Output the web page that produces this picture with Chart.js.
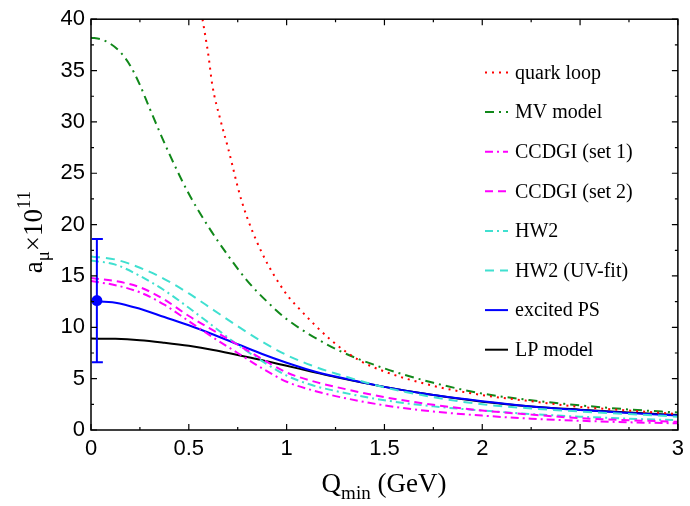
<!DOCTYPE html>
<html>
<head>
<meta charset="utf-8">
<script src="https://cdn.jsdelivr.net/npm/chart.js@4.4.0/dist/chart.umd.min.js"></script>
<style>
  html, body { margin: 0; padding: 0; background: #fff; }
  #wrap { width: 690px; height: 506px; }
</style>
</head>
<body>
<div id="wrap"><canvas id="chart"></canvas></div>
<script>
// Q_min grid (GeV) shared by the lower six curves
const qGrid = [0, 0.125, 0.25, 0.375, 0.5, 0.625, 0.75, 0.875, 1, 1.125, 1.25, 1.5, 1.75, 2, 2.25, 2.5, 2.75, 3];

const lpModel    = [8.9, 8.88, 8.75, 8.5, 8.2, 7.8, 7.3, 6.8, 6.25, 5.7, 5.15, 4.2, 3.4, 2.75, 2.3, 1.98, 1.7, 1.45];
const excitedPS  = [12.55, 12.4, 11.8, 11.0, 10.2, 9.3, 8.35, 7.4, 6.55, 5.8, 5.2, 4.2, 3.4, 2.8, 2.3, 1.95, 1.65, 1.4];
const hw2UV      = [16.9, 16.6, 15.8, 14.7, 13.3, 11.7, 10.1, 8.6, 7.3, 6.3, 5.5, 4.15, 3.2, 2.5, 2.1, 1.8, 1.55, 1.3];
const hw2        = [16.5, 16.1, 15.0, 13.6, 11.9, 10.1, 8.3, 6.7, 5.3, 4.4, 3.8, 2.9, 2.3, 1.9, 1.55, 1.3, 1.1, 0.95];
const ccdgiSet2  = [14.8, 14.5, 13.9, 12.7, 11.1, 9.7, 8.3, 6.9, 5.6, 4.8, 4.2, 3.2, 2.45, 1.9, 1.5, 1.15, 0.95, 0.8];
const ccdgiSet1  = [14.5, 14.1, 13.4, 12.2, 10.6, 9.0, 7.5, 6.0, 4.7, 3.9, 3.3, 2.4, 1.8, 1.4, 1.1, 0.9, 0.75, 0.65];

// MV model
const mvQ   = [0, 0.05, 0.1, 0.15, 0.2, 0.25, 0.3, 0.4, 0.5, 0.6, 0.7, 0.8, 0.9, 1, 1.25, 1.5, 1.75, 2, 2.25, 2.5, 2.75, 3];
const mvVal = [38.2, 38.05, 37.6, 36.8, 35.5, 33.6, 31.3, 26.9, 23.0, 19.8, 17.0, 14.5, 12.5, 10.8, 7.9, 6.0, 4.6, 3.55, 2.9, 2.4, 2.0, 1.7];

// quark loop
const qlQ   = [0.57, 0.6, 0.62, 0.66, 0.7, 0.77, 0.87, 1.0, 1.05, 1.23, 1.37, 1.5, 1.75, 2, 2.25, 2.5, 2.75, 3];
const qlVal = [40, 36.5, 33.6, 30.3, 27.5, 22.3, 17.4, 13.2, 12.1, 8.7, 6.8, 5.7, 4.3, 3.4, 2.8, 2.25, 1.9, 1.55];

// data point with error bar
const pointQ = 0.03;
const pointVal = 12.6;
const pointLow = 6.6;
const pointHigh = 18.6;

const xTicks = [0, 0.5, 1, 1.5, 2, 2.5, 3];
const yTicks = [0, 5, 10, 15, 20, 25, 30, 35, 40];

function toXY(xs, ys) {
    return xs.map((x, i) => ({ x: x, y: ys[i] }));
}

function line(label, xs, ys, color, dash, width) {
    return {
        label: label,
        data: toXY(xs, ys),
        borderColor: color,
        backgroundColor: color,
        borderDash: dash,
        borderWidth: width || 2,
        pointRadius: 0,
        fill: false,
        cubicInterpolationMode: 'monotone'
    };
}

const datasets = [
    line('quark loop', qlQ, qlVal, '#ff0000', [2, 5]),
    line('MV model', mvQ, mvVal, '#11881a', [9, 5, 2, 5]),
    line('CCDGI (set 1)', qGrid, ccdgiSet1, '#ff00ff', [8, 4, 2, 4]),
    line('CCDGI (set 2)', qGrid, ccdgiSet2, '#ff00ff', [8, 5]),
    line('HW2', qGrid, hw2, '#40e0d0', [8, 4, 2, 4]),
    line('HW2 (UV-fit)', qGrid, hw2UV, '#40e0d0', [9, 6]),
    line('excited PS', qGrid, excitedPS, '#0000ff', [], 2),
    line('LP model', qGrid, lpModel, '#000000', [], 2)
];

// frame, inward ticks, error bar point, legend and axis titles
const decorPlugin = {
    id: 'decor',
    afterDatasetsDraw(chart) {
        const ctx = chart.ctx;
        const a = chart.chartArea;
        const xs = chart.scales.x;
        const ys = chart.scales.y;
        ctx.save();

        // error bar
        const px = xs.getPixelForValue(pointQ);
        ctx.strokeStyle = '#0000ff';
        ctx.lineWidth = 2;
        ctx.setLineDash([]);
        ctx.beginPath();
        ctx.moveTo(px, ys.getPixelForValue(pointLow));
        ctx.lineTo(px, ys.getPixelForValue(pointHigh));
        ctx.moveTo(px - 5, ys.getPixelForValue(pointLow));
        ctx.lineTo(px + 6, ys.getPixelForValue(pointLow));
        ctx.moveTo(px - 5, ys.getPixelForValue(pointHigh));
        ctx.lineTo(px + 6, ys.getPixelForValue(pointHigh));
        ctx.stroke();
        ctx.fillStyle = '#0000ff';
        ctx.beginPath();
        ctx.arc(px, ys.getPixelForValue(pointVal), 5.5, 0, Math.PI * 2);
        ctx.fill();

        // frame
        ctx.strokeStyle = '#000';
        ctx.lineWidth = 1.5;
        ctx.strokeRect(a.left, a.top, a.right - a.left, a.bottom - a.top);

        // ticks on all four sides
        ctx.lineWidth = 1.2;
        ctx.beginPath();
        for (let v = 0; v <= 3.0001; v += 0.25) {
            const p = xs.getPixelForValue(v);
            const len = Math.abs(v * 2 - Math.round(v * 2)) < 1e-6 ? 6 : 3;
            ctx.moveTo(p, a.bottom); ctx.lineTo(p, a.bottom - len);
            ctx.moveTo(p, a.top); ctx.lineTo(p, a.top + len);
        }
        for (let v = 0; v <= 40.0001; v += 2.5) {
            const p = ys.getPixelForValue(v);
            const len = Math.abs(v / 5 - Math.round(v / 5)) < 1e-6 ? 6 : 3;
            ctx.moveTo(a.left, p); ctx.lineTo(a.left + len, p);
            ctx.moveTo(a.right, p); ctx.lineTo(a.right - len, p);
        }
        ctx.stroke();

        // legend
        const lx0 = 485, lx1 = 508, tx = 515, ty0 = 72.5, dy = 39.6;
        ctx.font = '20px "Liberation Serif", "Times New Roman", serif';
        ctx.textBaseline = 'middle';
        ctx.textAlign = 'left';
        chart.data.datasets.forEach((ds, i) => {
            const y = ty0 + i * dy;
            ctx.strokeStyle = ds.borderColor;
            ctx.lineWidth = ds.borderWidth;
            ctx.setLineDash(ds.borderDash);
            ctx.beginPath();
            ctx.moveTo(lx0, y);
            ctx.lineTo(lx1, y);
            ctx.stroke();
            ctx.setLineDash([]);
            ctx.fillStyle = '#000';
            ctx.fillText(ds.label, tx, y + 1);
        });

        // x-axis title: Q_min (GeV)
        const big = '27px "Liberation Serif", "Times New Roman", serif';
        const small = '19px "Liberation Serif", "Times New Roman", serif';
        ctx.fillStyle = '#000';
        ctx.textBaseline = 'alphabetic';
        ctx.font = big;
        const wQ = ctx.measureText('Q').width;
        const wRest = ctx.measureText(' (GeV)').width;
        ctx.font = small;
        const wMin = ctx.measureText('min').width;
        let x = 384 - (wQ + wMin + wRest) / 2;
        const base = 492;
        ctx.font = big; ctx.fillText('Q', x, base); x += wQ;
        ctx.font = small; ctx.fillText('min', x, base + 7); x += wMin;
        ctx.font = big; ctx.fillText(' (GeV)', x, base);

        // y-axis title: a_mu x 10^11
        ctx.save();
        ctx.translate(42, 232);
        ctx.rotate(-Math.PI / 2);
        const parts = [
            { t: 'a', f: big, dy: 0 },
            { t: 'μ', f: small, dy: 7 },
            { t: '×', f: big, dy: 0 },
            { t: '10', f: big, dy: 0 },
            { t: '11', f: small, dy: -12 }
        ];
        let total = 0;
        parts.forEach(p => { ctx.font = p.f; p.w = ctx.measureText(p.t).width; total += p.w; });
        let yx = -total / 2;
        parts.forEach(p => {
            ctx.font = p.f;
            ctx.fillText(p.t, yx, p.dy);
            yx += p.w;
        });
        ctx.restore();

        ctx.restore();
    }
};

const tickFont = { family: '"Liberation Sans", Arial, sans-serif', size: 22 };

new Chart(document.getElementById('chart').getContext('2d'), {
    type: 'line',
    data: { datasets: datasets },
    options: {
        responsive: true,
        maintainAspectRatio: false,
        animation: false,
        layout: { padding: { left: 0, top: 18, right: 10, bottom: 0 } },
        plugins: {
            legend: { display: false },
            tooltip: { enabled: false }
        },
        scales: {
            x: {
                type: 'linear',
                min: 0,
                max: 3,
                afterFit: s => { s.height = 76; },
                afterBuildTicks: s => { s.ticks = xTicks.map(v => ({ value: v })); },
                grid: { display: false, drawTicks: false },
                border: { display: false },
                ticks: {
                    color: '#000',
                    font: tickFont,
                    padding: 6,
                    maxRotation: 0,
                    callback: v => String(v)
                }
            },
            y: {
                type: 'linear',
                min: 0,
                max: 40,
                afterFit: s => { s.width = 91; },
                afterBuildTicks: s => { s.ticks = yTicks.map(v => ({ value: v })); },
                grid: { display: false, drawTicks: false },
                border: { display: false },
                ticks: {
                    color: '#000',
                    font: tickFont,
                    padding: 6,
                    callback: v => String(v)
                }
            }
        }
    },
    plugins: [decorPlugin]
});
</script>
</body>
</html>
